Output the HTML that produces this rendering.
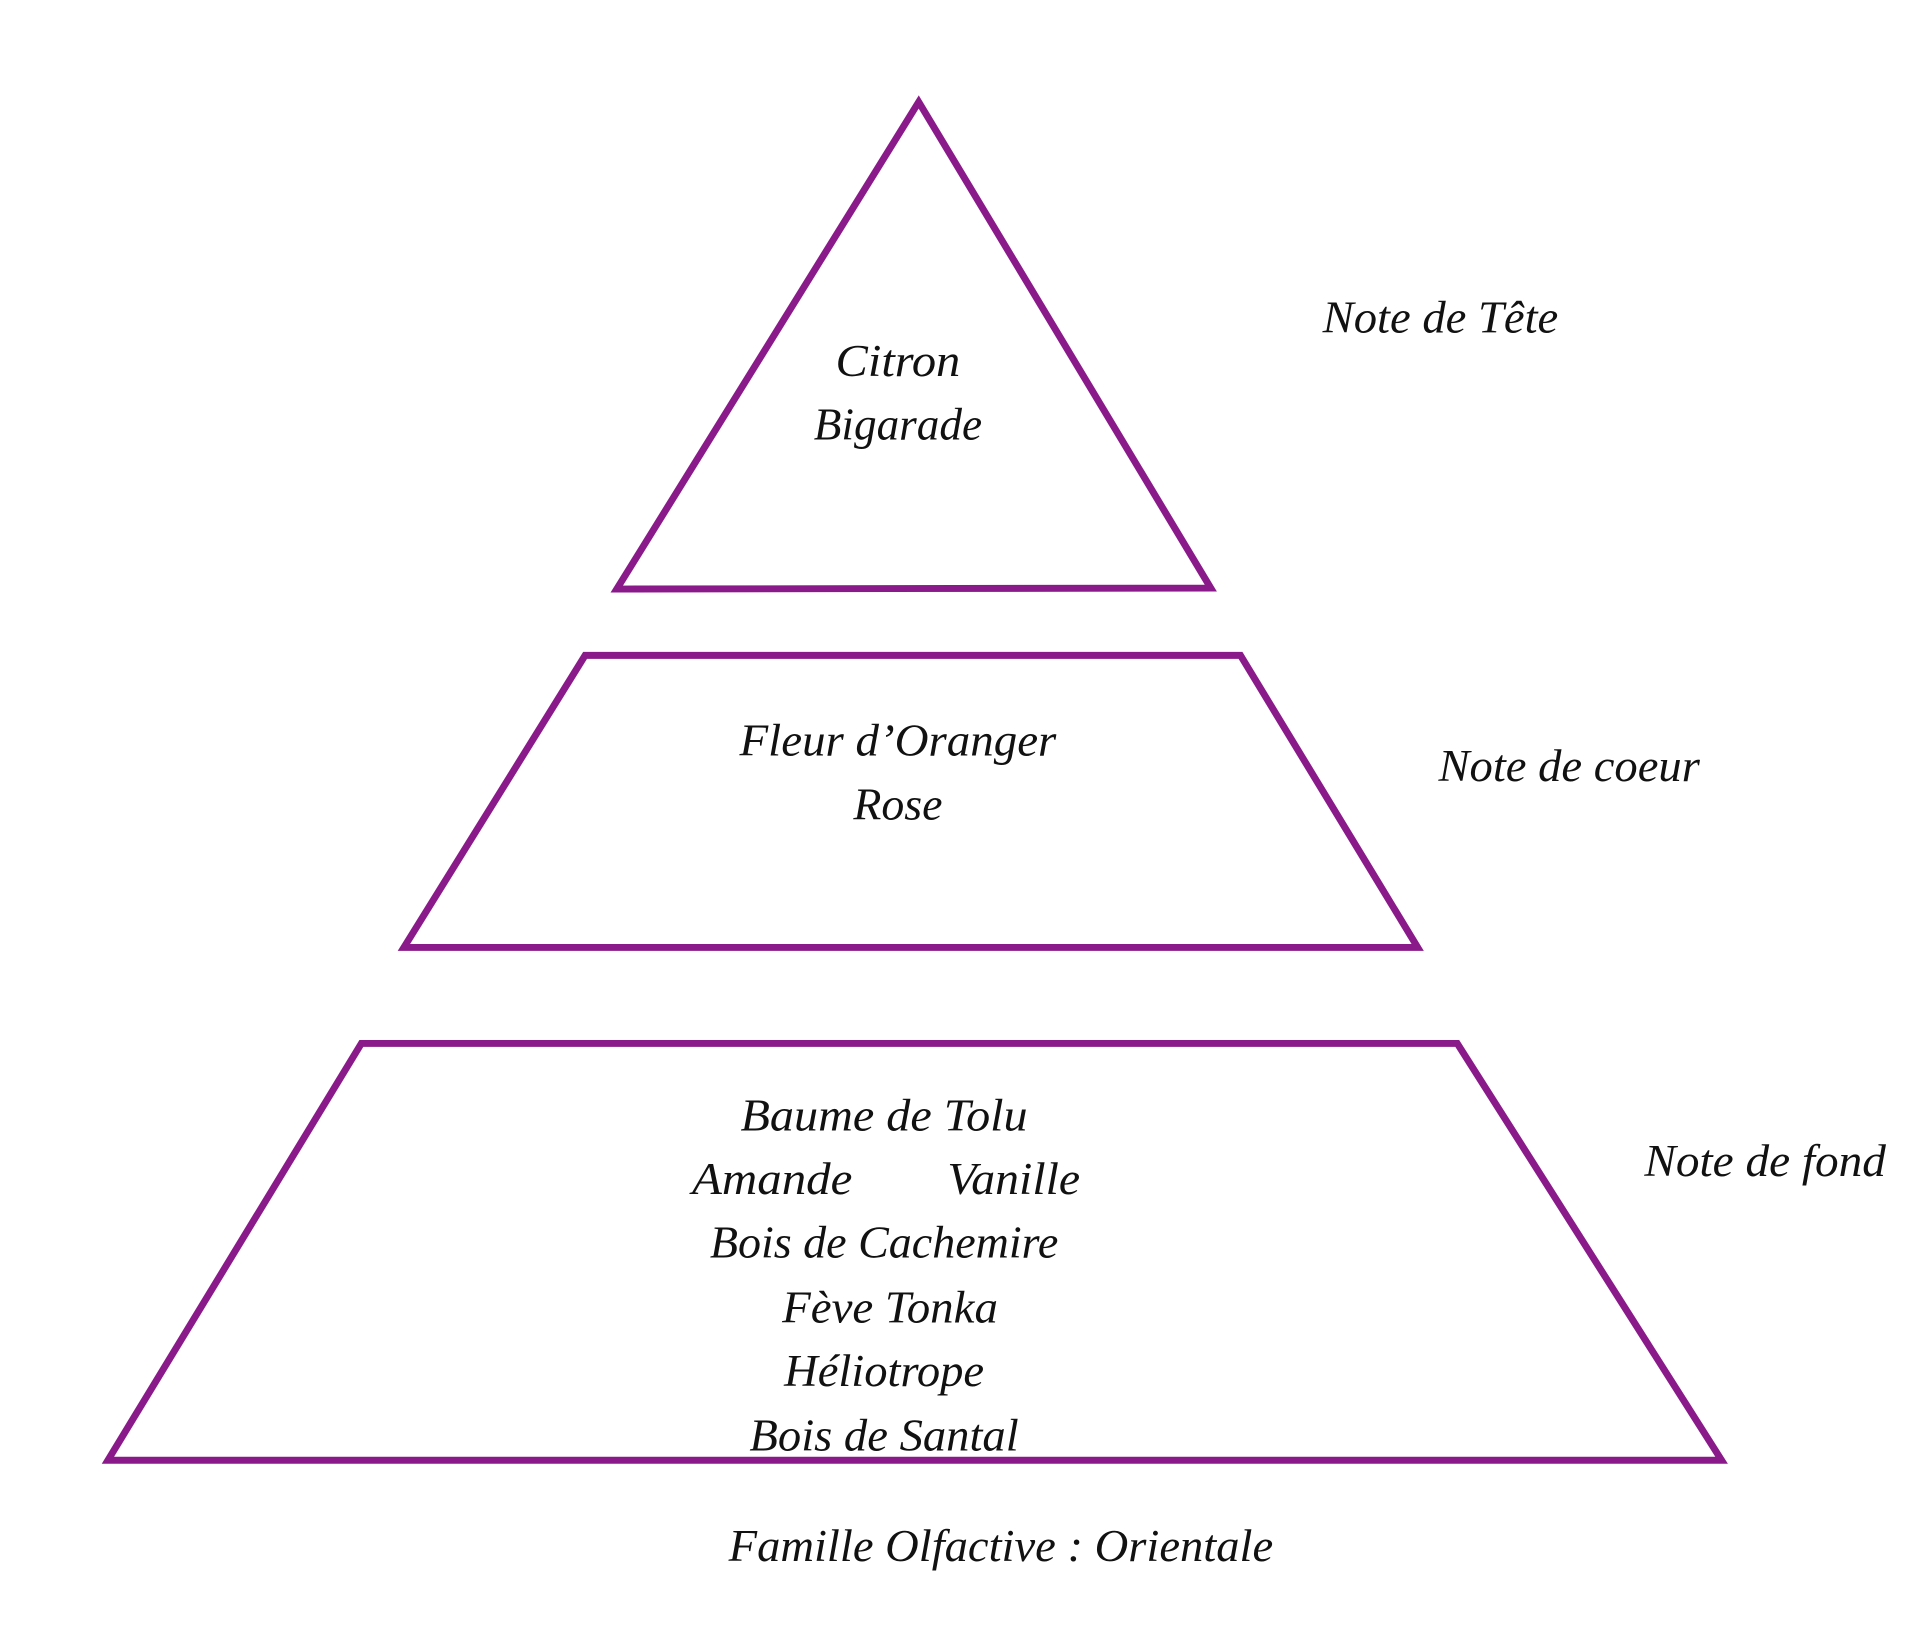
<!DOCTYPE html>
<html><head><meta charset="utf-8"><style>
html,body{margin:0;padding:0;background:#fff;}
svg{display:block;}
text{font-family:"Liberation Serif",serif;font-style:italic;font-size:46px;fill:#111;}
</style></head><body>
<svg width="1920" height="1630" viewBox="0 0 1920 1630" xmlns="http://www.w3.org/2000/svg">
<g transform="scale(0.99)">
<g fill="none" stroke="#8a1a8a" stroke-width="7" stroke-linejoin="miter">
<polygon points="928,103 623,595 1223,594"/>
<polygon points="591,662 1253,662 1432,957 408,957"/>
<polygon points="365,1054 1472,1054 1739,1475 109,1475"/>
</g>
<g text-anchor="middle">
<text x="907" y="380" textLength="126" lengthAdjust="spacingAndGlyphs">Citron</text>
<text x="907" y="444" textLength="170" lengthAdjust="spacingAndGlyphs">Bigarade</text>
<text x="907" y="763" textLength="320" lengthAdjust="spacingAndGlyphs">Fleur d’Oranger</text>
<text x="907" y="828" textLength="90" lengthAdjust="spacingAndGlyphs">Rose</text>
<text x="893" y="1142" textLength="290" lengthAdjust="spacingAndGlyphs">Baume de Tolu</text>
<text x="893" y="1270" textLength="352" lengthAdjust="spacingAndGlyphs">Bois de Cachemire</text>
<text x="899" y="1336" textLength="218" lengthAdjust="spacingAndGlyphs">Fève Tonka</text>
<text x="893" y="1400" textLength="202" lengthAdjust="spacingAndGlyphs">Héliotrope</text>
<text x="893" y="1465" textLength="272" lengthAdjust="spacingAndGlyphs">Bois de Santal</text>
<text x="1011" y="1577" textLength="550" lengthAdjust="spacingAndGlyphs">Famille Olfactive : Orientale</text>
</g>
<text x="699" y="1206" textLength="162" lengthAdjust="spacingAndGlyphs">Amande</text>
<text x="957" y="1206" textLength="134" lengthAdjust="spacingAndGlyphs">Vanille</text>
<text x="1336" y="336" textLength="238" lengthAdjust="spacingAndGlyphs">Note de Tête</text>
<text x="1453" y="789" textLength="264" lengthAdjust="spacingAndGlyphs">Note de coeur</text>
<text x="1661" y="1188" textLength="244" lengthAdjust="spacingAndGlyphs">Note de fond</text>
</g>
</svg>
</body></html>
